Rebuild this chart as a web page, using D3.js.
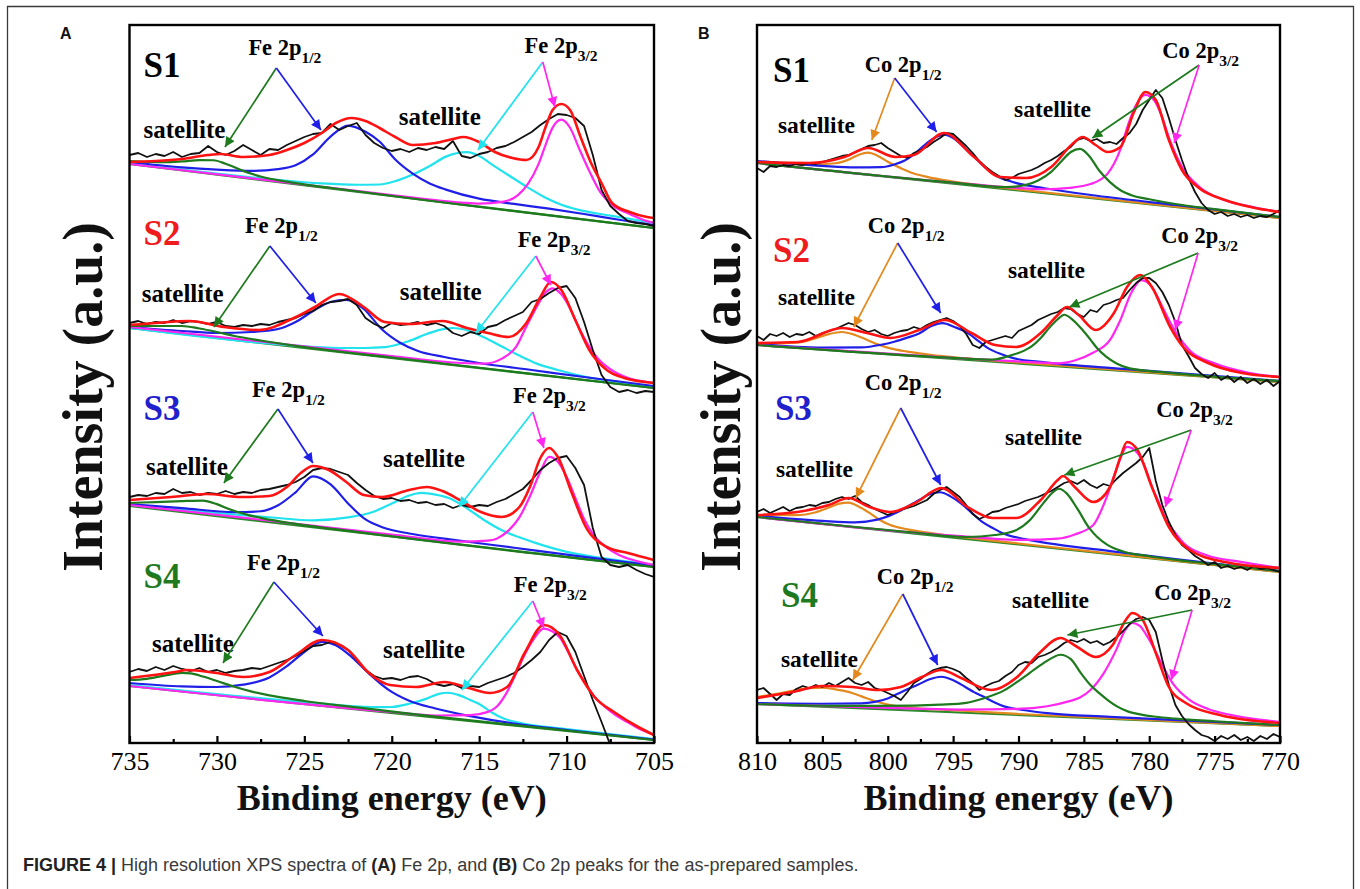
<!DOCTYPE html>
<html>
<head>
<meta charset="utf-8">
<title>XPS Fe 2p / Co 2p</title>
<script src="https://cdn.jsdelivr.net/npm/d3@7"></script>
<style>
  body { margin: 0; background: #fff; }
  svg { display: block; }
</style>
</head>
<body>
<svg id="chart" width="1360" height="889"></svg>
<script>
// scan grids, 0.5 eV step (binding energy, eV)
var feScan = d3.range(735, 704.9, -0.5);
var coScan = d3.range(810, 769.9, -0.5);

var feTicks = [735, 730, 725, 720, 715, 710, 705];
var feMinorTicks = [732.5, 727.5, 722.5, 717.5, 712.5, 707.5];
var coTicks = [810, 805, 800, 795, 790, 785, 780, 775, 770];
var coMinorTicks = [807.5, 802.5, 797.5, 792.5, 787.5, 782.5, 777.5, 772.5];

// ---------- Fe 2p (panel A), intensities in a.u. ----------
var feS1Raw = [588,590,586,589,587,591,586,589,590,597,
  591,588,592,598,593,588,594,593,598,602,
  606,609,610,619,613,617,620,608,600,595,
  592,594,591,595,593,596,594,602,587,585,
  589,591,595,597,601,606,611,618,624,629,
  628,625,617,588,553,537,529,522,520,519,
  517];
var feS2Raw = [420,422,419,421,420,423,420,422,421,419,
  421,417,416,418,417,419,418,421,423,425,
  429,432,438,441,442,444,438,425,419,415,
  420,418,419,421,418,420,417,410,407,411,
  409,416,418,423,427,431,441,444,450,455,
  457,445,421,393,368,356,351,353,350,352,
  351];
var feS3Raw = [246,248,247,250,249,254,250,251,248,250,
  249,252,249,251,250,253,254,256,258,261,
  266,273,275,274,271,268,260,253,247,244,
  245,242,243,240,241,238,239,235,238,236,
  238,237,241,244,249,254,263,273,280,285,
  287,275,258,215,186,178,176,178,173,169,
  166];
var feS4Raw = [71,74,72,76,73,77,74,72,75,71,
  73,70,72,73,75,74,77,80,83,87,
  92,97,98,101,98,93,83,73,67,64,
  65,63,66,67,64,59,57,59,55,57,
  56,60,63,66,70,76,83,91,103,111,
  107,91,67,43,21,-2,-15,-22,-25,-27,
  -29];

var feS1Fit = [[735,581],[733.5,582],[732,584],[730.5,588],[729.8,589],[728.5,586],[727,588],[726,593],[725,600],[724,610],[723.2,620],[722.3,625],[721.5,622],[720.7,615],[719.8,606],[718.8,598],[717.5,600],[716.5,604],[715.9,606],[715,601],[714.1,591],[713.1,585],[712.3,583],[711.6,596],[711.2,616],[710.8,633],[710.3,639],[709.8,633],[709.2,606],[708.6,580],[708,560],[707.4,540],[706.4,531],[705.4,526],[705,525]];
var feS2Fit = [[735,418],[733.5,420],[731.6,422],[729.6,416],[727.6,413],[725.6,425],[724.4,436],[723,449],[721.6,436],[720.4,421],[719,419],[717.1,422],[715.7,415],[714.5,410],[713.3,406],[712.3,420],[711.5,446],[710.9,461],[710.3,453],[709.5,423],[708.7,393],[707.7,373],[706.7,365],[705,360]];
var feS3Fit = [[735,243],[732.6,246],[730.6,249],[728.6,246],[727,247],[726,256],[725.2,270],[724.5,277],[723.6,273],[722.6,261],[721.6,248],[720.6,246],[719,253],[718,256],[717.1,252],[716.1,243],[714.9,231],[713.7,226],[712.7,236],[712.1,256],[711.5,285],[711,295],[710.5,286],[709.7,250],[708.9,216],[707.7,196],[706.5,190],[705,183]];
var feS4Fit = [[735,65],[732.4,71],[731.7,73],[730,70],[728.5,66],[727,71],[725.5,88],[724,103],[722.5,93],[721.3,70],[720.1,58],[718.6,56],[717,61],[715.6,55],[714.4,50],[713.4,56],[712.4,90],[711.3,118],[710.4,108],[709.4,73],[708.4,46],[707.2,30],[705.9,16],[705,8]];

// linear backgrounds [at 735 eV, at 705 eV]
var feS1Base = [579, 515];
var feS2Base = [415, 355];
var feS3Base = [237, 176];
var feS4Base = [57, 3];

// fitted components: [eV, height above background]
var feS1Blue = [[735,2],[732,3],[730,5],[728,8],[726.5,13],[725.5,19],[724.5,32],[723.5,52],[722.5,65],[721.5,61],[720.7,53],[719.8,37],[718.8,25],[717.8,17],[716.9,13],[715,8],[713,7],[711,6.5],[709,5.5],[707,4],[705,3]];
var feS1Cyan = [[735,1],[727,2],[724,4],[722,7],[720.7,10],[719.7,16],[718.8,24],[717.8,35],[716.9,46],[715.7,53],[714.9,50],[714.3,44],[713.1,33],[712.2,25],[711.2,17],[710.3,12],[709.3,9],[707.4,7],[705,5]];
var feS1Magenta = [[735,0],[720,1],[716,2],[715,3],[713.6,8],[712.8,16],[712.2,29],[711.6,50],[711.2,70],[710.8,88],[710.3,97],[709.8,90],[709.3,71],[708.7,49],[708.1,30],[707.4,18],[706.4,11],[705.4,6],[705,5]];
var feS1Green = [[735,3],[733,6],[732,9],[731,12.5],[730.2,14],[729.5,12],[728.5,7],[727.5,3.5],[726,1.5],[722,0.5],[705,0]];

var feS2Blue = [[735,1],[732,3],[730,5],[728,10],[726.5,16],[725.5,25],[724.5,38],[723.5,49],[722.6,53],[721.6,46],[720.6,28],[719.5,16],[718.5,10],[717,7],[715,5],[712,4],[709,3],[705,2]];
var feS2Cyan = [[735,0],[726,1],[723,4],[721.5,7],[720.4,10],[719,19],[718,28],[717.2,34],[716.5,37],[715.6,36],[714.7,31],[713.7,24],[712.7,17],[711.7,11],[710.5,7],[709,3.5],[707,2],[705,1]];
var feS2Magenta = [[735,1],[720,2],[716,3],[714.7,5],[713.7,12],[712.9,25],[712.3,47],[711.7,68],[711.2,83],[710.8,88],[710.3,83],[709.8,70],[709.3,52],[708.7,34],[708.2,23],[707.7,16],[706.7,8],[705,5]];
var feS2Green = [[735,2],[733.5,5],[732,8],[731,7.5],[730,6],[729,4],[727.5,2.5],[725,1],[720,0.5],[705,0]];

var feS3Blue = [[735,2],[732,4],[729,6],[727.5,10],[726.5,18],[725.5,33],[724.5,51],[723.5,45],[722.5,28],[721.5,14],[720.5,8],[719,5],[717,4],[713,3],[709,2],[705,1.5]];
var feS3Cyan = [[735,1],[730,3],[727,5],[724.5,7],[722.5,14],[721,23],[720,33],[719,43],[718.3,47],[717.5,47],[716.7,45],[715.7,37],[714.7,27],[713.7,19],[712.7,14],[711.7,10],[710,5],[708,3],[705,2]];
var feS3Magenta = [[735,1],[720,2],[716,3],[714.5,7],[714,10],[713.3,20],[712.7,34],[712.1,56],[711.5,82],[711,98],[710.5,94],[710,80],[709.5,60],[709,40],[708.4,24],[707.7,14],[707,8],[706,4],[705,2]];
var feS3Green = [[735,3],[733.5,7],[732,11],[730.8,14],[730,12],[729.2,8],[728.3,5],[727.3,3],[725.5,1.5],[722,0.5],[705,0]];

var feS4Blue = [[735,3],[732,5],[730,8],[728.5,13],[727,23],[726,36],[725,52],[724,64],[723.2,62],[722.3,52],[721.3,37],[720.2,23],[719,14],[717.5,9],[715.5,5],[713,2],[710,1],[705,0.5]];
var feS4Cyan = [[735,1],[725,2],[721,4],[720,6],[719,11],[718,18],[717.3,24],[716.8,26],[716.2,25],[715.5,21],[715,18],[714.3,11],[713.6,6],[712.5,3],[710,2],[705,1]];
var feS4Magenta = [[735,0],[720,1],[717.5,2],[715.5,6],[714.5,11],[714,17],[713.4,33],[712.9,52],[712.4,72],[711.9,88],[711.3,100],[710.8,98],[710.4,93],[709.9,79],[709.4,62],[708.9,49],[708.4,37],[707.8,28],[707.2,21],[706.5,15],[705.9,10],[705,5]];
var feS4Green = [[735,6],[734,9],[733,14],[732,18.5],[731.5,19],[730.8,17],[730,14],[729,10],[728,7],[727,5],[725,3],[722,2],[718,1],[710,0.5],[705,0]];

// ---------- Co 2p (panel B) ----------
var coS1Raw = [575,571,577,576,578,577,579,578,580,579,
  581,583,585,587,588,591,594,597,598,600,
  595,591,587,585,590,593,596,601,605,610,
  609,603,597,590,582,576,571,567,563,565,
  569,571,573,576,580,583,587,592,596,603,
  605,602,604,600,601,599,605,610,619,633,
  643,653,645,625,603,583,565,551,540,533,
  529,531,527,529,526,528,525,527,526,529,
  533];
var coS2Raw = [407,403,409,407,410,406,409,408,411,407,
  410,412,414,417,420,418,414,411,413,409,
  407,410,412,413,416,414,418,421,423,425,
  422,417,409,398,395,401,403,405,407,405,
  412,415,418,423,426,429,431,435,434,429,
  426,433,431,438,440,443,445,453,460,465,
  465,460,451,438,421,398,387,375,369,365,
  370,363,367,361,366,360,364,359,363,357,
  362];
var coS3Raw = [231,234,230,233,236,232,235,236,238,237,
  240,241,244,246,244,247,241,238,234,231,
  228,231,233,235,237,240,243,249,253,256,
  251,246,238,229,224,227,231,232,235,237,
  239,242,244,246,249,252,256,260,262,259,
  263,258,255,259,257,264,270,275,280,286,
  295,262,238,221,208,198,193,187,183,178,
  181,175,177,174,176,173,177,174,175,173,
  171];
var coS4Raw = [53,55,49,43,49,48,54,57,55,58,
  56,60,57,61,65,60,58,61,55,53,
  50,47,43,51,60,64,69,73,75,76,
  74,71,65,60,53,57,60,62,67,71,
  78,81,80,86,88,91,95,100,103,101,
  104,100,102,98,101,106,112,119,124,126,
  123,111,83,58,38,27,19,13,8,6,
  2,7,4,8,3,6,2,7,4,9,
  6];

var coS1Fit = [[810,581],[806,580],[803.3,586],[801.5,595],[799.4,586],[798,588],[795.7,610],[793.4,586],[791.4,566],[789.4,565],[787.5,576],[785.8,600],[785.1,606],[784.1,598],[783.2,591],[782.2,596],[781.2,630],[780.3,651],[779.5,643],[778.5,603],[777.5,573],[776.2,555],[774.2,543],[771.9,535],[770,531]];
var coS2Fit = [[810,400],[806.9,401],[803.5,415],[801.6,410],[799.8,405],[797.6,413],[795.6,423],[793.6,410],[791.8,398],[790.2,396],[788.3,410],[787,428],[786.3,436],[785.4,428],[784.1,413],[782.7,430],[781.7,456],[780.7,468],[779.8,456],[778.4,416],[777.4,396],[775.5,380],[772.9,370],[770,366]];
var coS3Fit = [[810,228],[806.9,231],[804.5,238],[803,245],[801.4,236],[799.8,231],[797.9,240],[795.9,255],[793.9,236],[792,225],[790.2,225],[788.3,243],[787,263],[786.6,267],[785.7,256],[784.3,241],[783,256],[782.2,286],[781.7,301],[780.9,293],[779.8,256],[778.5,216],[776.9,193],[774.2,181],[770,175]];
var coS4Fit = [[810,45],[807.3,51],[805,57],[802.7,56],[800.7,53],[799,56],[797.4,66],[795.9,73],[794.4,65],[792.1,53],[790.1,66],[788.4,90],[786.8,105],[785.5,96],[784.1,86],[782.8,98],[781.8,123],[781.3,130],[780.5,123],[779.5,90],[778.5,56],[777.2,40],[774.6,28],[770,20]];

// backgrounds [at 810 eV, at 770 eV]
var coS1Base = [580, 525];
var coS2Base = [398, 361];
var coS3Base = [226, 171];
var coS4Base = [39, 17];

var coS1Orange = [[810,1],[806,4],[804,8],[803,13],[802.2,19],[801.5,22],[800.8,20],[800,15],[799,10],[798,6],[797,4],[795,2],[790,1],[770,0]];
var coS1Blue = [[810,2],[805,4],[802.5,6],[800.5,9],[799.5,13],[798.7,18],[798,25],[797.3,34],[796.5,43],[795.7,48],[794.9,45],[794.2,38],[793.4,29],[792.6,20],[791.8,13],[790.5,8],[788,5],[784,3],[778,2],[770,1]];
var coS1Green = [[810,0],[795,1],[791,2],[789.5,6],[788.5,12],[787.5,22],[786.7,34],[786,44],[785.3,48],[784.6,42],[783.8,28],[783,18],[782.2,11],[781.3,7],[780,5],[778,3],[775,2],[770,1]];
var coS1Magenta = [[810,0],[795,1],[791,2],[788,4],[786.1,8],[784.5,14],[783.2,26],[782.2,52],[781.6,78],[781,98],[780.3,109],[779.6,104],[779,88],[778.5,69],[777.5,41],[776.2,23],[774.2,12],[772,8],[770,6]];

var coS2Orange = [[810,1],[807,5],[805.5,11],[804.5,16],[803.5,19],[802.5,17],[801.6,13],[800.7,9],[799.8,6],[798.5,4],[796,2],[790,1],[770,0]];
var coS2Blue = [[810,1],[805,2],[802,5],[800.5,9],[799.5,13],[798.5,18],[797.6,23],[796.7,31],[795.8,35],[794.9,32],[793.9,27],[793,19],[792.3,13],[791.3,8],[790.4,5],[788,3],[782,2],[770,1]];
var coS2Green = [[810,0],[795,1],[792,2],[790.5,8],[789.6,13],[789,18],[788.3,27],[787.7,37],[787,47],[786.5,52],[785.9,48],[785.1,38],[784.5,29],[784,21],[783.3,13],[782.5,7],[781.5,3],[779,1.5],[770,1]];
var coS2Magenta = [[810,0],[795,1],[790,2],[787,3],[785.7,7],[784.3,16],[783,30],[782.2,51],[781.4,78],[780.6,92],[779.8,86],[779,67],[778.4,52],[777.9,41],[776.9,25],[775,14],[772.4,7],[770,5]];

var coS3Orange = [[810,2],[807,6],[805.5,11],[804.5,17],[803.7,22],[803,24],[802.2,21],[801.4,16],[800.6,10],[799.8,6],[798.5,3.5],[796,2],[790,1],[770,0]];
var coS3Blue = [[810,1],[805,3],[802.5,5],[800.8,10],[799.9,15],[799.2,20],[798.3,28],[797.6,34],[796.8,41],[796,44],[795.2,41],[794.4,35],[793.6,27],[792.8,19],[792,14],[791.3,10],[789.5,6],[787,4],[783,3],[778,2],[770,1]];
var coS3Green = [[810,0],[798,1],[794,2],[791.8,7],[790.2,14],[789.1,26],[788.1,44],[787.5,54],[786.9,60],[786.3,56],[785.5,42],[784.6,24],[784,16],[783.2,9],[782,4],[780,2],[775,1],[770,1]];
var coS3Magenta = [[810,0],[795,2],[789.7,5],[787,10],[785.7,16],[784.3,27],[783.3,55],[782.5,86],[781.7,109],[780.9,104],[780.3,90],[779.8,72],[779.2,55],[778.7,40],[778,28],[777.4,19],[775.6,9],[773,6],[770,4]];

var coS4Orange = [[810,7],[808.5,11],[807.2,15],[806,18],[805,19],[804,18],[803,16],[802,12],[801,8],[800,5],[798.5,3],[795,2],[790,1],[770,0]];
var coS4Blue = [[810,1],[805,3],[802,5],[801,7],[800,11],[799.4,15],[798.5,21],[797.7,26],[796.8,32],[795.9,35],[795,32],[794.1,26],[793.4,21],[792.7,17],[791.9,12],[791.1,8],[789.5,5],[787.8,3],[783,2],[770,1]];
var coS4Green = [[810,0],[805,1],[801,3],[798,5],[796,7],[794,10],[792.7,15],[791.1,24],[789.8,36],[788.4,50],[787.5,58],[786.8,62],[786,58],[785.2,44],[784.5,33],[783.8,25],[783.1,18],[782.5,13],[781.6,8],[780.8,6],[779.5,4],[778,3],[775,2],[770,1]];
var coS4Magenta = [[810,0],[798,2],[794.4,3],[790.1,6],[787.8,10],[786.1,16],[785.3,20],[784.5,28],[783.5,45],[782.5,70],[781.9,88],[781.3,97],[780.7,94],[780.3,87],[779.7,74],[779.2,61],[778.2,38],[776.9,22],[775.5,14],[774.6,11],[772,6],[770,4]];

// ---------- colours ----------
var col = {
  black: "#111111", red: "#ff1212", blue: "#1f1fe8", cyan: "#20e3ee",
  magenta: "#ff26f0", green: "#1d7a1d", orange: "#e4891d", base: "#2a8a2a",
  s2: "#ee1c1c", s3: "#2020cc", s4: "#1f7a1f"
};

var feSpectra = [
  {name: "S1", color: "#000", raw: feS1Raw, fit: feS1Fit, base: feS1Base,
   peaks: [[feS1Cyan, col.cyan], [feS1Blue, col.blue], [feS1Magenta, col.magenta], [feS1Green, col.green]]},
  {name: "S2", color: col.s2, raw: feS2Raw, fit: feS2Fit, base: feS2Base,
   peaks: [[feS2Cyan, col.cyan], [feS2Blue, col.blue], [feS2Magenta, col.magenta], [feS2Green, col.green]]},
  {name: "S3", color: col.s3, raw: feS3Raw, fit: feS3Fit, base: feS3Base,
   peaks: [[feS3Cyan, col.cyan], [feS3Blue, col.blue], [feS3Magenta, col.magenta], [feS3Green, col.green]]},
  {name: "S4", color: col.s4, raw: feS4Raw, fit: feS4Fit, base: feS4Base,
   peaks: [[feS4Cyan, col.cyan], [feS4Blue, col.blue], [feS4Magenta, col.magenta], [feS4Green, col.green]]}
];
var coSpectra = [
  {name: "S1", color: "#000", raw: coS1Raw, fit: coS1Fit, base: coS1Base,
   peaks: [[coS1Orange, col.orange], [coS1Blue, col.blue], [coS1Magenta, col.magenta], [coS1Green, col.green]]},
  {name: "S2", color: col.s2, raw: coS2Raw, fit: coS2Fit, base: coS2Base,
   peaks: [[coS2Orange, col.orange], [coS2Blue, col.blue], [coS2Magenta, col.magenta], [coS2Green, col.green]]},
  {name: "S3", color: col.s3, raw: coS3Raw, fit: coS3Fit, base: coS3Base,
   peaks: [[coS3Orange, col.orange], [coS3Blue, col.blue], [coS3Magenta, col.magenta], [coS3Green, col.green]]},
  {name: "S4", color: col.s4, raw: coS4Raw, fit: coS4Fit, base: coS4Base,
   peaks: [[coS4Orange, col.orange], [coS4Blue, col.blue], [coS4Magenta, col.magenta], [coS4Green, col.green]]}
];

// annotation anchors in data space [eV, a.u.]
var feNotes = [
  {sample: [734.2, 666], p12: [728.2, 688], sat1: [734.2, 605], sat2: [717.25, 618], p32: [712.4, 690],
   apex12: [726.6, 675], to12: [[729.54, 596, col.green], [724.05, 613, col.blue]],
   apex32: [711.36, 681], to32: [[715.07, 593, col.cyan], [710.67, 636, col.magenta]]},
  {sample: [734.2, 498], p12: [728.4, 510], sat1: [734.3, 441], sat2: [717.2, 443], p32: [712.8, 496],
   apex12: [726.97, 497], to12: [[730.17, 416, col.green], [724.34, 440, col.blue]],
   apex32: [711.76, 487], to32: [[715.19, 410, col.cyan], [710.9, 458, col.magenta]]},
  {sample: [734.2, 323], p12: [728.0, 346], sat1: [734.06, 268], sat2: [718.16, 276], p32: [713.07, 340],
   apex12: [726.51, 334], to12: [[729.6, 260, col.green], [724.51, 280, col.blue]],
   apex32: [711.93, 331], to32: [[716.16, 236, col.cyan], [711.3, 295, col.magenta]]},
  {sample: [734.2, 155], p12: [728.28, 173], sat1: [733.71, 91], sat2: [718.16, 85], p32: [713.02, 151],
   apex12: [726.74, 161], to12: [[729.65, 80, col.green], [723.94, 107, col.blue]],
   apex32: [711.93, 142], to32: [[715.99, 53, col.cyan], [711.3, 115, col.magenta]]}
];
var coNotes = [
  {sample: [808.78, 661], p12: [801.76, 671], sat1: [808.4, 610], sat2: [787.4, 626], p32: [779.0, 685],
   apex12: [799.47, 665], to12: [[801.22, 603, col.orange], [796.26, 611, col.blue]],
   apex32: [776.18, 678], to32: [[784.35, 605, col.green], [778.09, 600, col.magenta]]},
  {sample: [808.78, 481], p12: [801.53, 510], sat1: [808.4, 438], sat2: [787.86, 465], p32: [779.08, 500],
   apex12: [799.24, 500], to12: [[802.6, 416, col.orange], [795.95, 430, col.blue]],
   apex32: [776.26, 490], to32: [[786.11, 436, col.green], [778.02, 413, col.magenta]]},
  {sample: [808.63, 323], p12: [801.76, 353], sat1: [808.55, 266], sat2: [788.09, 298], p32: [779.47, 326],
   apex12: [799.01, 335], to12: [[802.44, 245, col.orange], [795.95, 258, col.blue]],
   apex32: [776.79, 313], to32: [[786.49, 268, col.green], [778.78, 236, col.magenta]]},
  {sample: [808.17, 136], p12: [800.84, 159], sat1: [808.17, 76], sat2: [787.56, 135], p32: [779.62, 143],
   apex12: [798.85, 149], to12: [[802.67, 63, col.orange], [796.18, 78, col.blue]],
   apex32: [776.72, 133], to32: [[786.26, 108, col.green], [778.32, 63, col.magenta]]}
];

var serif = "'Liberation Serif', 'Times New Roman', serif";
var sans = "'Liberation Sans', Arial, sans-serif";

var svg = d3.select("#chart");
var defs = svg.append("defs");

// arrow heads, one per colour
[col.green, col.blue, col.cyan, col.magenta, col.orange].forEach(function(c) {
  defs.append("marker")
      .attr("id", "arrow-" + c.slice(1))
      .attr("viewBox", "0 0 10 10")
      .attr("refX", 10).attr("refY", 5)
      .attr("markerUnits", "userSpaceOnUse")
      .attr("markerWidth", 13).attr("markerHeight", 10)
      .attr("orient", "auto")
    .append("path")
      .attr("d", "M0,0 L10,5 L0,10 z")
      .attr("fill", c);
});

// outer figure frame
svg.append("path")
    .attr("d", "M7.5,895 V6.5 H1353.5 V895")
    .attr("fill", "none")
    .attr("stroke", "#3a3a3a")
    .attr("stroke-width", 1.3);

function drawPanel(p) {
  var top = 25, bottom = 743;
  var x = d3.scaleLinear().domain(p.domain).range([p.left, p.right]);
  var y = d3.scaleLinear().domain([0, 718]).range([bottom, top]);

  var g = svg.append("g");

  defs.append("clipPath").attr("id", "clip-" + p.key)
    .append("rect")
      .attr("x", p.left).attr("y", top)
      .attr("width", p.right - p.left).attr("height", bottom - top);

  var plot = g.append("g").attr("clip-path", "url(#clip-" + p.key + ")");

  p.spectra.forEach(function(s) {
    var base = d3.scaleLinear().domain(p.domain).range(s.base);

    // background line
    plot.append("path")
      .datum(p.domain)
      .attr("d", d3.line().x(function(d) { return x(d); }).y(function(d) { return y(base(d)); }))
      .attr("fill", "none")
      .attr("stroke", col.base)
      .attr("stroke-width", 2.2);

    var peakLine = d3.line()
        .x(function(d) { return x(d[0]); })
        .y(function(d) { return y(base(d[0]) + d[1]); })
        .curve(d3.curveMonotoneX);

    s.peaks.forEach(function(pk) {
      plot.append("path")
        .datum(pk[0])
        .attr("d", peakLine)
        .attr("fill", "none")
        .attr("stroke", pk[1])
        .attr("stroke-width", 2.2)
        .attr("stroke-linejoin", "round");
    });

    // measured spectrum
    plot.append("path")
      .datum(s.raw)
      .attr("d", d3.line()
          .x(function(d, i) { return x(p.scan[i]); })
          .y(function(d) { return y(d); }))
      .attr("fill", "none")
      .attr("stroke", col.black)
      .attr("stroke-width", 1.8)
      .attr("stroke-linejoin", "round");

    // envelope
    plot.append("path")
      .datum(s.fit)
      .attr("d", d3.line()
          .x(function(d) { return x(d[0]); })
          .y(function(d) { return y(d[1]); })
          .curve(d3.curveMonotoneX))
      .attr("fill", "none")
      .attr("stroke", col.red)
      .attr("stroke-width", 2.6);
  });

  // annotations
  var notes = g.append("g").attr("font-family", serif).attr("font-weight", "bold");
  p.notes.forEach(function(n, i) {
    notes.append("text")
      .attr("x", x(n.sample[0])).attr("y", y(n.sample[1]))
      .attr("font-size", 35)
      .attr("fill", p.spectra[i].color)
      .text(p.spectra[i].name);

    notes.append("text")
      .attr("x", x(n.sat1[0])).attr("y", y(n.sat1[1]))
      .attr("font-size", p.satSize)
      .text("satellite");
    notes.append("text")
      .attr("x", x(n.sat2[0])).attr("y", y(n.sat2[1]))
      .attr("text-anchor", "middle")
      .attr("font-size", p.satSize)
      .text("satellite");

    [[n.p12, "1/2"], [n.p32, "3/2"]].forEach(function(lb) {
      var t = notes.append("text")
        .attr("x", x(lb[0][0])).attr("y", y(lb[0][1]))
        .attr("font-size", 22.5);
      t.append("tspan").text(p.element + " 2p");
      t.append("tspan").attr("dy", 8).attr("font-size", 15.5).text(lb[1]);
    });

    [[n.apex12, n.to12], [n.apex32, n.to32]].forEach(function(ar) {
      ar[1].forEach(function(end) {
        notes.append("line")
          .attr("x1", x(ar[0][0])).attr("y1", y(ar[0][1]))
          .attr("x2", x(end[0])).attr("y2", y(end[1]))
          .attr("stroke", end[2])
          .attr("stroke-width", 1.7)
          .attr("marker-end", "url(#arrow-" + end[2].slice(1) + ")");
      });
    });
  });

  // frame
  g.append("rect")
    .attr("x", p.left).attr("y", top)
    .attr("width", p.right - p.left).attr("height", bottom - top)
    .attr("fill", "none")
    .attr("stroke", "#000")
    .attr("stroke-width", 2.4);

  // bottom axis: inward ticks
  var axis = g.append("g")
    .attr("transform", "translate(0," + bottom + ")")
    .call(d3.axisBottom(x).tickValues(p.ticks).tickSize(-7).tickPadding(8.5).tickFormat(d3.format("d")));
  axis.select(".domain").remove();
  axis.selectAll(".tick line").attr("stroke", "#000").attr("stroke-width", 2.2);
  axis.selectAll("text")
    .attr("font-family", serif)
    .attr("font-size", 26)
    .attr("fill", "#000");

  var minor = g.append("g")
    .attr("transform", "translate(0," + bottom + ")")
    .call(d3.axisBottom(x).tickValues(p.minor).tickSize(-4).tickFormat(""));
  minor.select(".domain").remove();
  minor.selectAll(".tick line").attr("stroke", "#000").attr("stroke-width", 2.2);

  // axis titles
  g.append("text")
    .attr("x", (p.left + p.right) / 2).attr("y", 810)
    .attr("text-anchor", "middle")
    .attr("font-family", serif).attr("font-weight", "bold")
    .attr("font-size", 36)
    .attr("fill", "#111")
    .text("Binding energy (eV)");

  g.append("text")
    .attr("transform", "translate(" + p.titleX + ",397) rotate(-90)")
    .attr("text-anchor", "middle")
    .attr("dy", "0.35em")
    .attr("font-family", serif).attr("font-weight", "bold")
    .attr("font-size", 56)
    .attr("fill", "#111")
    .text("Intensity (a.u.)");

  g.append("text")
    .attr("x", p.letterX).attr("y", 39)
    .attr("font-family", sans).attr("font-weight", "bold")
    .attr("font-size", 16)
    .attr("fill", "#111")
    .text(p.letter);
}

drawPanel({key: "fe", letter: "A", letterX: 60, titleX: 82, element: "Fe",
  domain: [735, 705], left: 129.5, right: 654, scan: feScan,
  ticks: feTicks, minor: feMinorTicks, spectra: feSpectra, notes: feNotes, satSize: 25});
drawPanel({key: "co", letter: "B", letterX: 698, titleX: 720, element: "Co",
  domain: [810, 770], left: 757, right: 1280, scan: coScan,
  ticks: coTicks, minor: coMinorTicks, spectra: coSpectra, notes: coNotes, satSize: 23.5});

// caption
var cap = svg.append("text")
  .attr("x", 23).attr("y", 871)
  .attr("font-family", sans)
  .attr("font-size", 18)
  .attr("fill", "#3a3a3a");
cap.append("tspan").attr("font-weight", "bold").attr("fill", "#222").text("FIGURE 4 | ");
cap.append("tspan").text("High resolution XPS spectra of ");
cap.append("tspan").attr("font-weight", "bold").attr("fill", "#222").text("(A)");
cap.append("tspan").text(" Fe 2p, and ");
cap.append("tspan").attr("font-weight", "bold").attr("fill", "#222").text("(B)");
cap.append("tspan").text(" Co 2p peaks for the as-prepared samples.");
</script>
</body>
</html>
